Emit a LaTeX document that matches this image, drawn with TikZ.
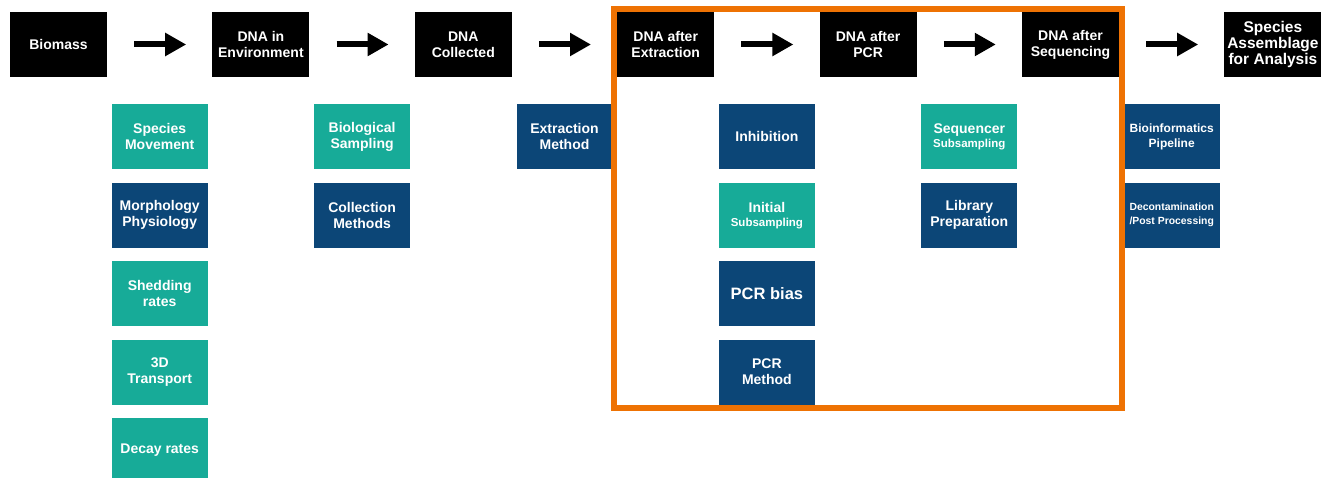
\documentclass[tikz,border=0pt]{standalone}
\usepackage{fontspec}
\setmainfont{Liberation Sans}
\usetikzlibrary{arrows.meta, positioning, fit, calc}
\definecolor{tealbg}{HTML}{17AB98}
\definecolor{navybg}{HTML}{0C4677}
\definecolor{frameor}{HTML}{EE7203}

\begin{document}
\begin{tikzpicture}[
    x=1pt, y=1pt,
    node distance=105pt,
    stage/.style={rectangle, fill=black, text=white, minimum width=97pt, minimum height=65pt,
                  inner sep=1pt, align=center, font=\fontsize{14}{16}\selectfont\bfseries},
    factor/.style={rectangle, text=white, minimum width=96pt, minimum height=65pt,
                   inner sep=1pt, align=center, font=\fontsize{14}{16}\selectfont\bfseries},
    tl/.style={factor, fill=tealbg},
    nv/.style={factor, fill=navybg},
    arr/.style={-{Triangle[length=21pt, width=22pt]}, line width=6pt, shorten <=27pt, shorten >=26pt},
    frame/.style={draw=frameor, line width=6pt, inner sep=3pt}
  ]
  \useasboundingbox (0,0) rectangle (1328,-478);
  \node[stage] (bio) at (58.5,-44.5) {Biomass};
  \node[stage, right=of bio] (env) {DNA in\\Environment};
  \node[stage, right=of env] (col) {DNA\\Collected};
  \node[stage, right=of col] (extr) {DNA after\\Extraction};
  \node[stage, right=of extr] (pcr) {DNA after\\PCR};
  \node[stage, right=of pcr] (seq) {DNA after\\Sequencing};
  \node[stage, right=of seq, font=\fontsize{15.5}{16}\selectfont\bfseries] (spec) {Species\\Assemblage\\for Analysis};
  \draw[arr] (bio) -- (env);
  \draw[arr] (env) -- (col);
  \draw[arr] (col) -- (extr);
  \draw[arr] (extr) -- (pcr);
  \draw[arr] (pcr) -- (seq);
  \draw[arr] (seq) -- (spec);

  \node[tl, anchor=north] (mov) at ($(bio.south)!0.5!(env.south)+(0,-27)$) {Species\\Movement};
  \node[nv, below=13pt of mov] (mor) {Morphology\\Physiology};
  \node[tl, below=13pt of mor] (shed) {Shedding\\rates};
  \node[tl, below=13pt of shed] (trans) {3D\\Transport};
  \node[tl, below=13pt of trans] (dec) {Decay rates};

  \node[tl, anchor=north] (samp) at ($(env.south)!0.5!(col.south)+(0,-27)$) {Biological\\Sampling};
  \node[nv, below=13pt of samp] (meth) {Collection\\Methods};

  \node[nv, anchor=north] (exm) at ($(col.south)!0.5!(extr.south)+(0,-27)$) {Extraction\\Method};

  \node[nv, anchor=north] (inh) at ($(extr.south)!0.5!(pcr.south)+(0,-27)$) {Inhibition};
  \node[tl, below=13pt of inh] (ini) {Initial\\[-2pt]{\fontsize{11.5}{14}\selectfont Subsampling}};
  \node[nv, below=13pt of ini, font=\fontsize{16.5}{18}\selectfont\bfseries] (bias) {PCR bias};
  \node[nv, below=13pt of bias] (pcrm) {PCR\\Method};

  \node[tl, anchor=north] (sub) at ($(pcr.south)!0.5!(seq.south)+(0,-27)$) {Sequencer\\[-2pt]{\fontsize{11.5}{14}\selectfont Subsampling}};
  \node[nv, below=13pt of sub] (lib) {Library\\Preparation};

  \node[nv, anchor=north, font=\fontsize{12}{16}\selectfont\bfseries] (pipe) at ($(seq.south)!0.5!(spec.south)+(0,-27)$) {Bioinformatics\\Pipeline};
  \node[nv, below=13pt of pipe, font=\fontsize{10.4}{14}\selectfont\bfseries] (post) {Decontamination\\/Post Processing};

  \node[frame, fit=(extr)(seq)(pcrm)] (zone) {};
\end{tikzpicture}
\end{document}
